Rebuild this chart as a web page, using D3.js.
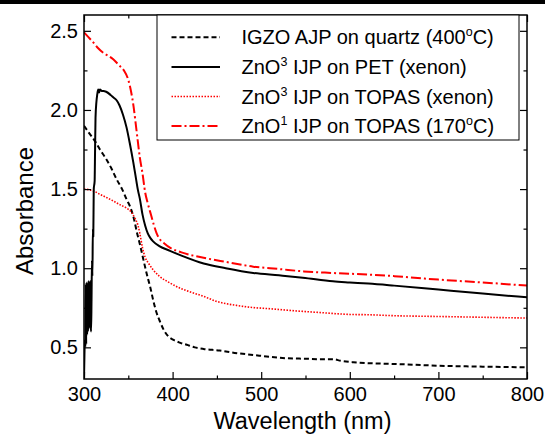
<!DOCTYPE html>
<html><head><meta charset="utf-8">
<script src="https://cdn.jsdelivr.net/npm/d3@7"></script>
<style>body{margin:0;background:#fff}svg{display:block;font-family:"Liberation Sans",Arial,sans-serif}</style>
</head><body>
<svg id="c" width="545" height="437"></svg>
<script>
// ---- data ----
const igzoWl = [300,305,312,318,325,331,337,343,348,352,356,360,364,367,371,375,378,382,386,390,395,401,408,416,425,435,453,470,491,510,529,550,566,581,590,604,621,650,700,750,800];
const igzoAbs = [1.90,1.86,1.806,1.75,1.69,1.63,1.56,1.50,1.436,1.39,1.32,1.22,1.13,1.055,0.96,0.875,0.80,0.717,0.66,0.61,0.57,0.547,0.530,0.516,0.50,0.49,0.48,0.465,0.452,0.44,0.431,0.428,0.425,0.425,0.415,0.406,0.40,0.395,0.384,0.378,0.374];

const petWl = [300,300.5,301,301.5,302,302.5,303,303.5,304,304.5,305,305.5,306,306.5,307,307.5,308,308.5,309,309.5,310,310.5,311,312,312.5,313,314,315,316,317,318,320,322,325,330,333,337,340,344,348,352,355.6,358,361,363,366,369,372,375,378,385,397,410,435,460,491,520,547,581,600,621,650,700,750,800];
const petAbs = [0.30,0.45,0.55,0.50,0.90,0.52,0.91,0.58,0.88,0.60,0.92,0.62,0.85,0.70,0.92,0.65,0.60,0.80,1.05,0.95,1.25,1.20,1.50,1.55,1.75,1.95,2.05,2.10,2.13,2.11,2.13,2.12,2.12,2.115,2.095,2.08,2.06,2.03,1.97,1.89,1.78,1.67,1.59,1.49,1.44,1.34,1.27,1.22,1.19,1.17,1.14,1.11,1.08,1.03,1.00,0.97,0.955,0.94,0.917,0.91,0.903,0.89,0.865,0.84,0.816];

const topasXeWl = [300,310,318,326,333,341,348,354,358,361,363,366,369,373,378,385,397,410,420,435,450,472,490,510,540,566,600,621,650,700,750,800];
const topasXeAbs = [1.50,1.49,1.467,1.445,1.425,1.40,1.38,1.35,1.31,1.27,1.22,1.13,1.07,1.03,0.99,0.95,0.907,0.87,0.85,0.822,0.79,0.765,0.752,0.744,0.73,0.72,0.708,0.706,0.70,0.695,0.69,0.685];

const topas170Wl = [300,305,310,316,322,328,333,340,345,350,353,356,358,361,363,366,369,372,376,379,382,386,390,397,410,435,460,491,520,548,580,621,650,700,750,800];
const topas170Abs = [2.49,2.46,2.43,2.39,2.36,2.34,2.32,2.28,2.25,2.19,2.12,2.02,1.93,1.79,1.70,1.60,1.48,1.41,1.33,1.27,1.22,1.18,1.16,1.13,1.10,1.066,1.04,1.01,0.995,0.98,0.97,0.96,0.95,0.928,0.91,0.89];

const xMajor = [300,400,500,600,700,800];
const xMinor = [350,450,550,650,750];
const yMajor = [0.5,1.0,1.5,2.0,2.5];
const yMinor = [0.75,1.25,1.75,2.25];
const xLabel = "Wavelength (nm)";
const yLabel = "Absorbance";
const legendItems = [
  {parts:[["IGZO AJP on quartz (400",false],["o",true],["C)",false]], color:"#000", dash:"5,3", w:2},
  {parts:[["ZnO",false],["3",true],[" IJP on PET (xenon)",false]], color:"#000", dash:null, w:2},
  {parts:[["ZnO",false],["3",true],[" IJP on TOPAS (xenon)",false]], color:"#ff0000", dash:"1.5,1.5", w:1.6},
  {parts:[["ZnO",false],["1",true],[" IJP on TOPAS (170",false],["o",true],["C)",false]], color:"#ff0000", dash:"10,3,2,3", w:2}
];
const seriesList = [
  {wl:igzoWl, v:igzoAbs, li:0},
  {wl:topasXeWl, v:topasXeAbs, li:2},
  {wl:topas170Wl, v:topas170Abs, li:3},
  {wl:petWl, v:petAbs, li:1}
];

// ---- layout ----
const L=84, R=527, T=15, B=379;
const svg = d3.select("#c");
svg.append("rect").attr("x",0).attr("y",0).attr("width",545).attr("height",4).attr("fill","#000");

const x = d3.scaleLinear().domain([300,800]).range([L,R]);
const y = d3.scaleLinear().domain([0.3,2.6]).range([B,T]);

svg.append("defs").append("clipPath").attr("id","clip")
  .append("rect").attr("x",L).attr("y",T).attr("width",R-L).attr("height",B-T);

const line = d3.line().x(d=>x(d[0])).y(d=>y(d[1])).curve(d3.curveMonotoneX);
const g = svg.append("g").attr("clip-path","url(#clip)");
seriesList.forEach(s=>{
  const it = legendItems[s.li];
  g.append("path").datum(s.wl.map((w,i)=>[w,s.v[i]]))
    .attr("d",line).attr("fill","none").attr("stroke",it.color)
    .attr("stroke-width",it.w).attr("stroke-dasharray",it.dash)
    .attr("stroke-linejoin","round");
});

// axes
function styleAxis(sel){ sel.select(".domain").remove(); sel.selectAll("line").attr("stroke","#000").attr("stroke-width",1.2); sel.selectAll("text").attr("fill","#000").style("font-size","20px").style("font-family","'Liberation Sans',Arial,sans-serif"); }
svg.append("g").attr("transform",`translate(0,${B})`)
  .call(d3.axisBottom(x).tickValues(xMajor).tickSize(-7).tickPadding(8).tickFormat(d3.format("d"))).call(styleAxis);
svg.append("g").attr("transform",`translate(0,${B})`)
  .call(d3.axisBottom(x).tickValues(xMinor).tickSize(-3.5).tickFormat("")).call(styleAxis);
svg.append("g").attr("transform",`translate(0,${T})`)
  .call(d3.axisTop(x).tickValues(xMajor).tickSize(-7).tickFormat("")).call(styleAxis);
svg.append("g").attr("transform",`translate(0,${T})`)
  .call(d3.axisTop(x).tickValues(xMinor).tickSize(-3.5).tickFormat("")).call(styleAxis);
svg.append("g").attr("transform",`translate(${L},0)`)
  .call(d3.axisLeft(y).tickValues(yMajor).tickSize(-7).tickPadding(6).tickFormat(d3.format(".1f"))).call(styleAxis);
svg.append("g").attr("transform",`translate(${L},0)`)
  .call(d3.axisLeft(y).tickValues(yMinor).tickSize(-3.5).tickFormat("")).call(styleAxis);
svg.append("g").attr("transform",`translate(${R},0)`)
  .call(d3.axisRight(y).tickValues(yMajor).tickSize(-7).tickFormat("")).call(styleAxis);
svg.append("g").attr("transform",`translate(${R},0)`)
  .call(d3.axisRight(y).tickValues(yMinor).tickSize(-3.5).tickFormat("")).call(styleAxis);

svg.append("rect").attr("x",L).attr("y",T).attr("width",R-L).attr("height",B-T)
  .attr("fill","none").attr("stroke","#000").attr("stroke-width",1.5);

// titles
svg.append("text").attr("x",(L+R)/2-3).attr("y",428.5).attr("text-anchor","middle")
  .style("font-size","23.5px").text(xLabel);
svg.append("text").attr("transform","translate(33,211) rotate(-90)").attr("text-anchor","middle")
  .style("font-size","24px").text(yLabel);

// legend
const lg = svg.append("g");
lg.append("rect").attr("x",157).attr("y",T).attr("width",519-157).attr("height",140-T)
  .attr("fill","#fff").attr("stroke","#000").attr("stroke-width",1);
legendItems.forEach((it,i)=>{
  const by = 44.3 + i*29.6;
  lg.append("line").attr("x1",171.5).attr("x2",220).attr("y1",by-7).attr("y2",by-7)
    .attr("stroke",it.color).attr("stroke-width",it.w).attr("stroke-dasharray",it.dash);
  const t = lg.append("text").attr("x",241.5).attr("y",by).style("font-size","20px");
  let shift=0;
  it.parts.forEach(p=>{
    if(p[1]){ t.append("tspan").attr("dy",-8-shift).style("font-size","12.5px").text(p[0]); shift=-8; }
    else { t.append("tspan").attr("dy",-shift).text(p[0]); shift=0; }
  });
});
</script>
</body></html>
